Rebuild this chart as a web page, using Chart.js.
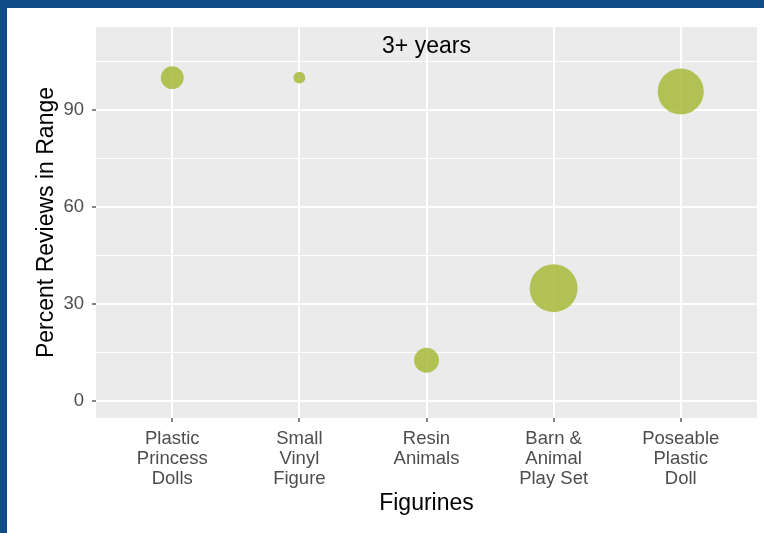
<!DOCTYPE html>
<html>
<head>
<meta charset="utf-8">
<script src="https://cdn.jsdelivr.net/npm/chart.js@4/dist/chart.umd.min.js"></script>
<style>
  html, body { margin: 0; padding: 0; background: #fff; }
  #c { display: block; }
</style>
</head>
<body>
<canvas id="c" width="764" height="533"></canvas>
<script>
// ---- data ----
const categories = [
  ["Plastic", "Princess", "Dolls"],
  ["Small", "Vinyl", "Figure"],
  ["Resin", "Animals"],
  ["Barn &", "Animal", "Play Set"],
  ["Poseable", "Plastic", "Doll"]
];
const percentReviews = [100, 100, 12.5, 34.8, 95.7];
const bubbleSizes = [130, 35, 155, 575, 530];   // relative bubble area
const yMajorTicks = [0, 30, 60, 90];
const yMinorTicks = [15, 45, 75, 105];
const panelLabel = "3+ years";
const xTitle = "Figurines";
const yTitle = "Percent Reviews in Range";

const FONT = "'Liberation Sans', Arial, Helvetica, sans-serif";

const framePlugin = {
  id: 'frame',
  beforeDraw(chart) {
    const ctx = chart.ctx;
    const a = chart.chartArea;
    ctx.save();
    ctx.fillStyle = '#ffffff';
    ctx.fillRect(0, 0, chart.width, chart.height);
    ctx.fillStyle = '#0f4c88';
    ctx.fillRect(0, 0, chart.width, 8);
    ctx.fillRect(0, 0, 7, chart.height);
    ctx.fillStyle = '#ebebeb';
    ctx.fillRect(a.left, a.top, a.right - a.left, a.bottom - a.top);
    ctx.restore();
  }
};

const labelPlugin = {
  id: 'panelLabel',
  afterDatasetsDraw(chart) {
    const ctx = chart.ctx;
    const x = chart.scales.x.getPixelForValue(3);
    const y = chart.scales.y.getPixelForValue(109.6);
    ctx.save();
    ctx.font = '23px ' + FONT;
    ctx.fillStyle = '#000';
    ctx.textAlign = 'center';
    ctx.textBaseline = 'middle';
    ctx.fillText(panelLabel, x, y);
    ctx.restore();
  }
};

const points = categories.map((c, i) => ({
  x: i + 1,
  y: percentReviews[i],
  r: Math.sqrt(bubbleSizes[i])
}));

new Chart(document.getElementById('c'), {
  type: 'bubble',
  data: {
    datasets: [{
      data: points,
      backgroundColor: 'rgba(168,186,56,0.85)',
      borderWidth: 0,
      hoverBorderWidth: 0,
      hoverRadius: 0
    }]
  },
  options: {
    responsive: false,
    animation: false,
    events: [],
    layout: { autoPadding: false, padding: { left: 0, top: 27, right: 7, bottom: 0 } },
    plugins: { legend: { display: false }, tooltip: { enabled: false } },
    scales: {
      x: {
        type: 'linear',
        min: 0.4,
        max: 5.6,
        afterBuildTicks: s => { s.ticks = categories.map((c, i) => ({ value: i + 1 })); },
        afterFit: s => { s.height = 115; s.paddingLeft = 0; s.paddingRight = 0; },
        ticks: {
          autoSkip: false,
          maxRotation: 0,
          minRotation: 0,
          padding: 6.4,
          color: '#4d4d4d',
          font: { family: FONT, size: 18.5, lineHeight: 1.1 },
          callback: v => categories[Math.round(v) - 1]
        },
        grid: {
          color: '#ffffff',
          lineWidth: 2,
          tickLength: 4,
          tickColor: '#333333',
          tickWidth: 1.2
        },
        border: { display: false },
        title: {
          display: true,
          text: xTitle,
          color: '#000',
          font: { family: FONT, size: 23 },
          padding: { top: 0, bottom: 15.5 }
        }
      },
      y: {
        type: 'linear',
        min: -5.4,
        max: 115.7,
        afterBuildTicks: s => {
          s.ticks = yMajorTicks.concat(yMinorTicks).sort((a, b) => a - b).map(v => ({ value: v }));
        },
        afterFit: s => { s.width = 96; s.paddingTop = 0; s.paddingBottom = 0; },
        ticks: {
          padding: 8,
          color: '#4d4d4d',
          font: { family: FONT, size: 18.5 },
          callback: v => yMajorTicks.includes(v) ? String(v) : ''
        },
        grid: {
          color: '#ffffff',
          lineWidth: ctx => (ctx.tick && yMajorTicks.includes(ctx.tick.value)) ? 2 : 1,
          tickLength: 4,
          tickColor: ctx => (ctx.tick && yMajorTicks.includes(ctx.tick.value)) ? '#333333' : 'rgba(0,0,0,0)',
          tickWidth: 1.2
        },
        border: { display: false },
        title: {
          display: true,
          text: yTitle,
          color: '#000',
          font: { family: FONT, size: 23 },
          padding: { top: 33, bottom: 0 }
        }
      }
    }
  },
  plugins: [framePlugin, labelPlugin]
});
</script>
</body>
</html>
